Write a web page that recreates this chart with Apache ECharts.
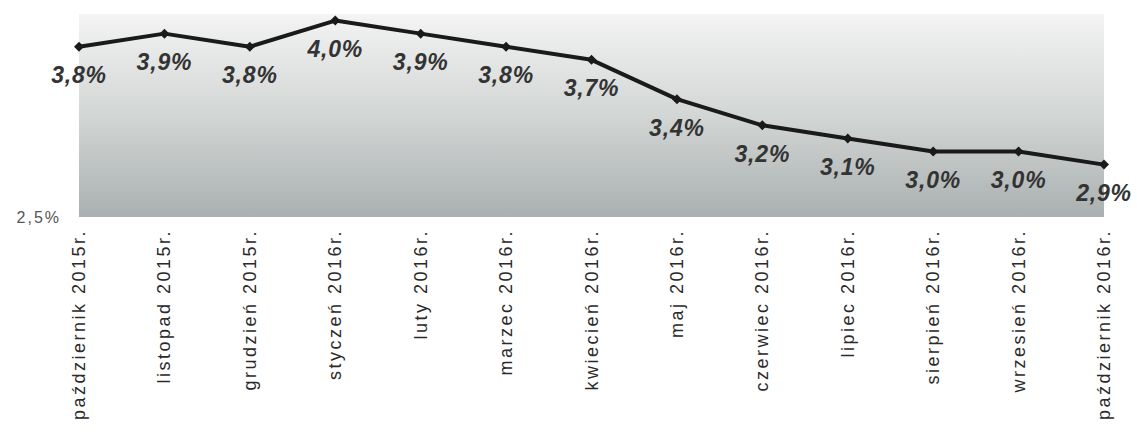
<!DOCTYPE html>
<html>
<head>
<meta charset="utf-8">
<script src="https://cdn.jsdelivr.net/npm/echarts@6/dist/echarts.min.js"></script>
<style>
html,body{margin:0;padding:0;background:#fff;}
#c{width:1137px;height:434px;}
#c text{letter-spacing:2.5px;}
#c text[style*="16px"]{letter-spacing:2px;}
#c text[style*="bold"]{letter-spacing:0.8px;}
</style>
</head>
<body>
<div id="c"></div>
<script>
const categories = ["październik 2015r.","listopad 2015r.","grudzień 2015r.","styczeń 2016r.","luty 2016r.","marzec 2016r.","kwiecień 2016r.","maj 2016r.","czerwiec 2016r.","lipiec 2016r.","sierpień 2016r.","wrzesień 2016r.","październik 2016r."];
const values = [3.8,3.9,3.8,4.0,3.9,3.8,3.7,3.4,3.2,3.1,3.0,3.0,2.9];
const yMin = 2.5;
const yMax = 4.05;

const chart = echarts.init(document.getElementById('c'), null, {renderer:'svg'});
chart.setOption({
  animation:false,
  backgroundColor:'#ffffff',
  grid:{left:79,right:33,top:14,bottom:217,show:true,borderWidth:0,
    backgroundColor:{type:'linear',x:0,y:0,x2:0,y2:1,colorStops:[{offset:0,color:'#f3f4f3'},{offset:0.5,color:'#d2d6d5'},{offset:1,color:'#aab0b0'}]}},
  xAxis:{type:'category',data:categories,boundaryGap:false,
    axisLine:{show:false},axisTick:{show:false},
    axisLabel:{rotate:90,margin:12,interval:0,fontFamily:'Liberation Sans, Arial',fontSize:18,color:'#2a2a2a'}},
  yAxis:{type:'value',min:yMin,max:yMax,splitLine:{show:false},axisLine:{show:false},axisTick:{show:false},
    axisLabel:{margin:18,fontFamily:'Liberation Sans, Arial',fontSize:16,color:'#555',
      formatter:function(v){return Math.abs(v-2.5)<1e-9?'2,5%':'';}}},
  series:[{type:'line',data:values,symbol:'diamond',symbolSize:10,
    lineStyle:{color:'#1a1a1a',width:4},itemStyle:{color:'#1a1a1a'},
    label:{show:true,position:'bottom',distance:12,fontFamily:'Liberation Sans, Arial',fontSize:23,fontWeight:'bold',fontStyle:'italic',color:'#333',
      formatter:function(p){return p.value.toFixed(1).replace('.',',')+'%';}}}]
});
</script>
</body>
</html>
